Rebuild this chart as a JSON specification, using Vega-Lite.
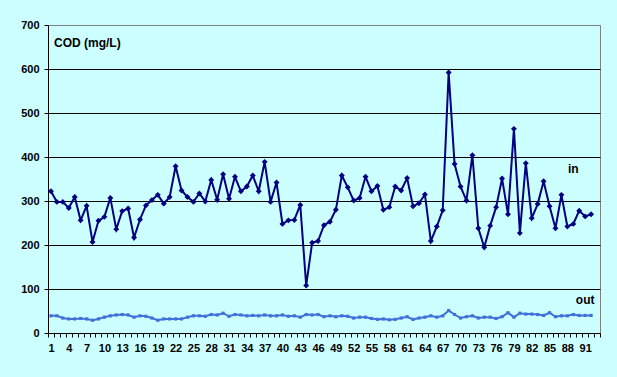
{
  "$schema": "https://vega.github.io/schema/vega-lite/v6.json",
  "width": 552,
  "height": 308,
  "autosize": {"type": "none"},
  "padding": {"left": 48, "top": 25, "right": 17, "bottom": 44},
  "background": "#CCFFFF",
  "config": {
    "view": {"stroke": "#808080", "strokeWidth": 1},
    "axis": {
      "domainColor": "#000000",
      "tickColor": "#000000",
      "labelColor": "#000000",
      "labelFont": "Liberation Sans",
      "labelFontWeight": "bold",
      "labelFontSize": 11,
      "title": null
    }
  },
  "data": {
    "values": [
      {"d":1,"in":322,"out":39},{"d":2,"in":298,"out":39},{"d":3,"in":298,"out":34},{"d":4,"in":284,"out":32},
      {"d":5,"in":309,"out":32},{"d":6,"in":256,"out":33},{"d":7,"in":289,"out":32},{"d":8,"in":207,"out":29},
      {"d":9,"in":255,"out":32},{"d":10,"in":264,"out":36},{"d":11,"in":307,"out":39},{"d":12,"in":236,"out":41},
      {"d":13,"in":277,"out":42},{"d":14,"in":283,"out":41},{"d":15,"in":217,"out":36},{"d":16,"in":258,"out":39},
      {"d":17,"in":290,"out":38},{"d":18,"in":302,"out":34},{"d":19,"in":314,"out":29},{"d":20,"in":294,"out":32},
      {"d":21,"in":309,"out":32},{"d":22,"in":379,"out":32},{"d":23,"in":324,"out":32},{"d":24,"in":309,"out":36},
      {"d":25,"in":298,"out":39},{"d":26,"in":317,"out":39},{"d":27,"in":299,"out":38},{"d":28,"in":348,"out":42},
      {"d":29,"in":303,"out":41},{"d":30,"in":361,"out":45},{"d":31,"in":305,"out":38},{"d":32,"in":355,"out":42},
      {"d":33,"in":322,"out":41},{"d":34,"in":333,"out":39},{"d":35,"in":358,"out":40},{"d":36,"in":322,"out":39},
      {"d":37,"in":389,"out":41},{"d":38,"in":298,"out":39},{"d":39,"in":342,"out":39},{"d":40,"in":248,"out":41},
      {"d":41,"in":256,"out":38},{"d":42,"in":257,"out":39},{"d":43,"in":291,"out":36},{"d":44,"in":108,"out":42},
      {"d":45,"in":205,"out":41},{"d":46,"in":209,"out":42},{"d":47,"in":245,"out":37},{"d":48,"in":253,"out":39},
      {"d":49,"in":280,"out":37},{"d":50,"in":358,"out":39},{"d":51,"in":331,"out":38},{"d":52,"in":301,"out":34},
      {"d":53,"in":307,"out":36},{"d":54,"in":355,"out":36},{"d":55,"in":322,"out":33},{"d":56,"in":334,"out":31},
      {"d":57,"in":280,"out":32},{"d":58,"in":286,"out":30},{"d":59,"in":333,"out":31},{"d":60,"in":324,"out":34},
      {"d":61,"in":352,"out":37},{"d":62,"in":288,"out":31},{"d":63,"in":295,"out":34},{"d":64,"in":315,"out":36},
      {"d":65,"in":209,"out":39},{"d":66,"in":242,"out":36},{"d":67,"in":279,"out":39},{"d":68,"in":592,"out":51},
      {"d":69,"in":384,"out":42},{"d":70,"in":333,"out":34},{"d":71,"in":301,"out":37},{"d":72,"in":404,"out":39},
      {"d":73,"in":238,"out":34},{"d":74,"in":195,"out":36},{"d":75,"in":244,"out":36},{"d":76,"in":286,"out":33},
      {"d":77,"in":351,"out":37},{"d":78,"in":270,"out":46},{"d":79,"in":464,"out":36},{"d":80,"in":227,"out":45},
      {"d":81,"in":386,"out":43},{"d":82,"in":261,"out":43},{"d":83,"in":293,"out":42},{"d":84,"in":345,"out":40},
      {"d":85,"in":288,"out":46},{"d":86,"in":238,"out":37},{"d":87,"in":314,"out":39},{"d":88,"in":242,"out":39},
      {"d":89,"in":248,"out":42},{"d":90,"in":278,"out":40},{"d":91,"in":265,"out":40},{"d":92,"in":270,"out":40}
    ]
  },
  "encoding": {
    "x": {
      "field": "d",
      "type": "ordinal",
      "bandPosition": 0.5,
      "scale": {
        "type": "band",
        "paddingInner": 0,
        "paddingOuter": 0,
        "domain": [1,2,3,4,5,6,7,8,9,10,11,12,13,14,15,16,17,18,19,20,21,22,23,24,25,26,27,28,29,30,31,32,33,34,35,36,37,38,39,40,41,42,43,44,45,46,47,48,49,50,51,52,53,54,55,56,57,58,59,60,61,62,63,64,65,66,67,68,69,70,71,72,73,74,75,76,77,78,79,80,81,82,83,84,85,86,87,88,89,90,91,92,93]
      },
      "axis": {
        "tickBand": "extent",
        "tickSize": 4,
        "labelPadding": 5,
        "labelAngle": 0,
        "labelOverlap": false,
        "labelExpr": "(datum.value - 1) % 3 == 0 && datum.value < 93 ? datum.label : ''",
        "grid": false
      }
    }
  },
  "layer": [
    {
      "mark": {"type": "line", "color": "#4070D8", "strokeWidth": 2},
      "encoding": {
        "y": {
          "field": "out",
          "type": "quantitative",
          "scale": {"domain": [0, 700], "nice": false},
          "axis": {
            "values": [0, 100, 200, 300, 400, 500, 600, 700],
            "grid": true,
            "gridColor": {"condition": {"test": "datum.value == 700 || datum.value == 0", "value": "#808080"}, "value": "#000000"},
            "tickSize": 4,
            "labelPadding": 5
          }
        }
      }
    },
    {
      "mark": {"type": "point", "shape": "square", "filled": true, "size": 10, "color": "#4070D8", "opacity": 1},
      "encoding": {"y": {"field": "out", "type": "quantitative"}}
    },
    {
      "mark": {"type": "line", "color": "#000080", "strokeWidth": 2},
      "encoding": {"y": {"field": "in", "type": "quantitative"}}
    },
    {
      "mark": {"type": "point", "shape": "diamond", "filled": true, "size": 35, "color": "#000080", "opacity": 1},
      "encoding": {"y": {"field": "in", "type": "quantitative"}}
    },
    {
      "data": {"values": [{"d": 1, "v": 659, "t": "COD (mg/L)"}]},
      "mark": {"type": "text", "align": "left", "baseline": "middle", "dx": 6, "font": "Liberation Sans", "fontSize": 12, "fontWeight": "bold", "color": "#000000"},
      "encoding": {
        "x": {"field": "d", "type": "ordinal", "bandPosition": 0},
        "y": {"field": "v", "type": "quantitative"},
        "text": {"field": "t"}
      }
    },
    {
      "data": {"values": [{"d": 89, "v": 373, "t": "in"}, {"d": 91, "v": 76, "t": "out"}]},
      "mark": {"type": "text", "align": "center", "baseline": "middle", "font": "Liberation Sans", "fontSize": 12, "fontWeight": "bold", "color": "#000000"},
      "encoding": {
        "y": {"field": "v", "type": "quantitative"},
        "text": {"field": "t"}
      }
    }
  ]
}
